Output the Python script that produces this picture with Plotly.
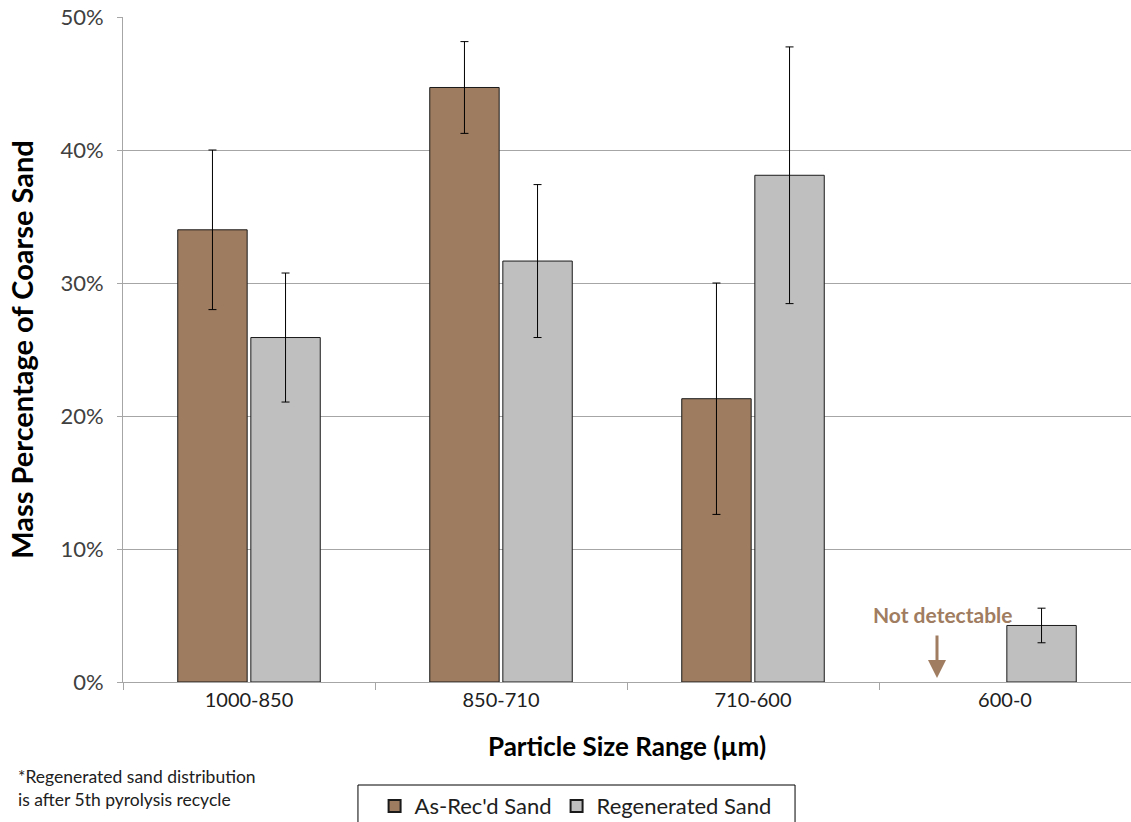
import plotly.graph_objects as go

categories = ["1000-850", "850-710", "710-600", "600-0"]
as_recd = [34.0, 44.7, 21.3, None]
as_recd_err = [6.0, 3.45, 8.7, 0]
regen = [25.9, 31.65, 38.1, 4.25]
regen_err = [4.85, 5.75, 9.65, 1.3]
y_ticks = [0, 10, 20, 30, 40, 50]
y_tick_labels = ["0%", "10%", "20%", "30%", "40%", "50%"]

FONT = "Lato"
fig = go.Figure()
fig.add_trace(go.Bar(
    name="As-Rec'd Sand", x=categories, y=as_recd,
    marker=dict(color="#9E7C60", line=dict(color="#1a1a1a", width=1)),
    error_y=dict(type="data", array=as_recd_err, color="black", thickness=1, width=4),
))
fig.add_trace(go.Bar(
    name="Regenerated Sand", x=categories, y=regen,
    marker=dict(color="#BFBFBF", line=dict(color="#1a1a1a", width=1)),
    error_y=dict(type="data", array=regen_err, color="black", thickness=1, width=4),
))

fig.update_layout(
    width=1131, height=822,
    margin=dict(l=123, r=0, t=17, b=140, autoexpand=False),
    paper_bgcolor="white", plot_bgcolor="white",
    barmode="group", bargap=0.42, bargroupgap=0.05,
    font=dict(family=FONT, color="#404040"),
    showlegend=True,
    legend=dict(
        orientation="h", x=0.449, xanchor="center", y=-0.155, yanchor="top",
        borderwidth=0, bgcolor="rgba(0,0,0,0)",
        font=dict(family=FONT, size=22, color="#202020"),
        itemsizing="constant",
    ),
)
# legend frame
fig.add_shape(type="rect", xref="paper", yref="paper",
              x0=0.2331, x1=0.6667, y0=-0.1549, y1=-0.26,
              line=dict(color="black", width=1), fillcolor="rgba(0,0,0,0)")
fig.update_yaxes(
    range=[0, 50], tickvals=y_ticks, ticktext=y_tick_labels,
    tickfont=dict(family=FONT, size=22, color="#404040"),
    ticklabelstandoff=9,
    showgrid=True, gridcolor="#A6A6A6", gridwidth=1,
    showline=True, linecolor="#A6A6A6", linewidth=1,
    ticks="outside", ticklen=5, tickcolor="#A6A6A6",
    zeroline=False,
    title=dict(text="<b>Mass Percentage of Coarse Sand</b>",
               font=dict(family=FONT, size=29, color="black"), standoff=18),
)
fig.update_xaxes(
    tickfont=dict(family=FONT, size=20, color="#202020"),
    showline=True, linecolor="#A6A6A6", linewidth=1,
    ticks="outside", ticklen=7, tickcolor="#A6A6A6", tickson="boundaries",
    title=dict(text="<b>Particle Size Range (µm)</b>",
               font=dict(family=FONT, size=26, color="black"), standoff=27),
)

fig.add_annotation(
    x="600-0", y=0.3, xref="x", yref="y", xshift=-68,
    text="", showarrow=True, arrowhead=2, arrowsize=1.2, arrowwidth=3,
    arrowcolor="#A07C60", ax=0, ay=-44,
)
fig.add_annotation(
    x="600-0", y=5.1, xref="x", yref="y", xshift=-62,
    text="<b>Not detectable</b>", showarrow=False,
    font=dict(family=FONT, size=21, color="#A07C60"),
)
fig.add_annotation(
    x=-0.106, y=-0.124, xref="paper", yref="paper", xanchor="left", yanchor="top",
    align="left", showarrow=False,
    text="*Regenerated sand distribution<br>is after 5th pyrolysis recycle",
    font=dict(family=FONT, size=17.5, color="#202020"),
)

fig.write_html("out.html")
